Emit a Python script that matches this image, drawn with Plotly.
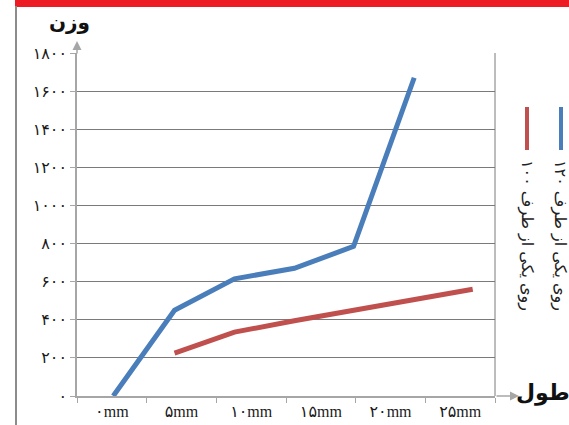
import plotly.graph_objects as go

# ---- data ----
x_labels = ["۰mm", "۵mm", "۱۰mm", "۱۵mm", "۲۰mm", "۲۵mm"]
x_ticks = [0, 5, 10, 15, 20, 25]
y_ticks = [0, 200, 400, 600, 800, 1000, 1200, 1400, 1600, 1800]
y_labels = ["۰", "۲۰۰", "۴۰۰", "۶۰۰", "۸۰۰", "۱۰۰۰", "۱۲۰۰", "۱۴۰۰", "۱۶۰۰", "۱۸۰۰"]

blue_name = "روی یکی از طرف ۱۲۰"
blue_x = [0.1, 4.5, 8.8, 13.1, 17.35, 21.7]
blue_y = [0, 450, 615, 670, 785, 1670]

red_name = "روی یکی از طرف ۱۰۰"
red_x = [4.5, 8.8, 13.1, 17.35, 21.7, 25.9]
red_y = [225, 335, 395, 450, 505, 560]

W, H = 569, 425
L, R, T, B = 77, 74, 53, 29
PW, PH = W - L - R, H - T - B

def px(x):
    return (x - L) / PW

def py(y):
    return (H - B - y) / PH

BLUE = "#4a7ebb"
RED = "#c0504d"
GRID = "#7a7a7a"
AXIS = "#a6a6a6"
FONT = "Liberation Serif, DejaVu Sans"

fig = go.Figure()
fig.add_trace(go.Scatter(x=blue_x, y=blue_y, mode="lines", name=blue_name,
                         line=dict(color=BLUE, width=5)))
fig.add_trace(go.Scatter(x=red_x, y=red_y, mode="lines", name=red_name,
                         line=dict(color=RED, width=5)))

fig.update_layout(
    width=W, height=H,
    margin=dict(l=L, r=R, t=T, b=B, autoexpand=False),
    paper_bgcolor="white", plot_bgcolor="white",
    showlegend=False,
    font=dict(family=FONT, size=14, color="#222"),
    xaxis=dict(range=[-2.5, 27.5], tickmode="array", tickvals=x_ticks, ticktext=x_labels,
               ticks="", showgrid=False, zeroline=False, showline=True, automargin=False,
               linecolor=AXIS, linewidth=1.5,
               tickfont=dict(family=FONT, size=16, color="#1a1a1a"),
               minor=dict(tickmode="array", tickvals=[-2.5, 2.5, 7.5, 12.5, 17.5, 22.5, 27.5],
                          ticks="outside", ticklen=5, tickcolor=AXIS, tickwidth=1, showgrid=False),
               fixedrange=True),
    yaxis=dict(range=[0, 1800], tickmode="array", tickvals=y_ticks, ticktext=y_labels,
               ticks="outside", ticklen=5, tickcolor=AXIS, showgrid=True, gridcolor=GRID,
               gridwidth=1, zeroline=False, showline=True, linecolor=AXIS, linewidth=1.5,
               automargin=False,
               tickfont=dict(family=FONT, size=16, color="#1a1a1a"), fixedrange=True),
)

shapes = [
    # right border of plot area
    dict(type="line", xref="paper", yref="paper", x0=1, x1=1, y0=0, y1=1,
         line=dict(color=GRID, width=1)),
    # top red banner
    dict(type="rect", xref="paper", yref="paper", x0=px(15), x1=px(570), y0=py(7), y1=py(-2),
         fillcolor="#ed1c24", line=dict(width=0), layer="above"),
    # left frame line
    dict(type="line", xref="paper", yref="paper", x0=px(16), x1=px(16), y0=py(430), y1=py(6),
         line=dict(color="#8c8c8c", width=2)),
    # legend swatches
    dict(type="line", xref="paper", yref="paper", x0=px(561), x1=px(561), y0=py(107), y1=py(150),
         line=dict(color=BLUE, width=4)),
    dict(type="line", xref="paper", yref="paper", x0=px(527), x1=px(527), y0=py(107), y1=py(150),
         line=dict(color=RED, width=4)),
]
fig.update_layout(shapes=shapes)

def label(x, y, text, size, angle=0, bold=False, color="#222"):
    return dict(xref="paper", yref="paper", x=px(x), y=py(y), text=(f"<b>{text}</b>" if bold else text),
                showarrow=False, xanchor="center", yanchor="middle", textangle=angle,
                font=dict(family="DejaVu Sans", size=size, color=color))

ann = [
    # axis arrows
    dict(xref="paper", yref="paper", x=px(519), y=0, ax=-24, ay=0, text="", showarrow=True,
         arrowhead=2, arrowsize=1.2, arrowwidth=1.5, arrowcolor=AXIS),
    dict(xref="paper", yref="paper", x=0, y=py(41), ax=0, ay=14, text="", showarrow=True,
         arrowhead=2, arrowsize=1.2, arrowwidth=1.5, arrowcolor=AXIS),
    # axis titles
    label(69, 22, "وزن", 20, bold=True, color="#111"),
    label(543, 393, "طول", 22, bold=True, color="#111"),
    # legend texts
    label(560, 235, blue_name, 16, angle=90),
    label(527, 235, red_name, 16, angle=90),
]
fig.update_layout(annotations=ann)

fig.write_html("out.html", config={"displayModeBar": False},
               post_script="document.body.style.margin='0';")
